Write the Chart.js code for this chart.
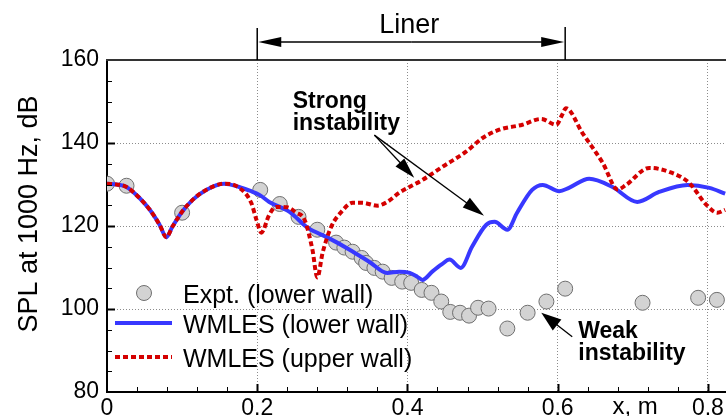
<!DOCTYPE html>
<html>
<head>
<meta charset="utf-8">
<script src="https://cdn.jsdelivr.net/npm/chart.js@4.4.1/dist/chart.umd.min.js"></script>
<style>
  html, body { margin: 0; padding: 0; width: 726px; height: 416px; overflow: hidden; background: #fff; }
  #wrap { position: relative; width: 726px; height: 416px; overflow: hidden; }
  canvas { position: absolute; left: 0; top: 0; }
</style>
</head>
<body>
<div id="wrap"><canvas id="splChart" width="800" height="430"></canvas></div>
<script>
// SPL at 1000 Hz along the duct

// Experiment, lower wall
const exptX = [0.000, 0.026, 0.100, 0.204, 0.230, 0.255, 0.280, 0.305, 0.316, 0.327, 0.339, 0.345,
               0.356, 0.367, 0.379, 0.393, 0.405, 0.419, 0.432, 0.445, 0.457, 0.470, 0.482, 0.494,
               0.508, 0.533, 0.560, 0.585, 0.610, 0.713, 0.787, 0.812];
const exptY = [130.2, 129.7, 123.2, 128.7, 125.3, 122.2, 119.1, 116.0, 114.8, 113.8, 112.3, 111.1,
               109.9, 109.0, 107.5, 106.6, 106.3, 104.6, 103.9, 101.8, 99.3, 99.1, 98.4, 100.3,
               100.1, 95.3, 99.1, 101.8, 104.9, 101.5, 102.7, 102.2];

// WMLES, lower wall
const lowerX = [0.000, 0.013, 0.026, 0.043, 0.057, 0.070, 0.079, 0.087, 0.099, 0.114, 0.132, 0.156,
                0.176, 0.190, 0.203, 0.216, 0.243, 0.267, 0.294, 0.323, 0.349, 0.373, 0.389, 0.403,
                0.413, 0.420, 0.433, 0.446, 0.456, 0.471, 0.486, 0.505, 0.516, 0.533, 0.546, 0.566,
                0.580, 0.602, 0.615, 0.642, 0.673, 0.706, 0.735, 0.773, 0.802, 0.823];
const lowerY = [130.2, 130.0, 129.4, 126.8, 123.9, 120.3, 117.3, 119.8, 123.2, 126.3, 128.7, 130.2,
                129.4, 128.5, 127.5, 125.8, 123.4, 119.6, 117.2, 114.3, 111.4, 108.7, 109.0, 108.7,
                107.8, 107.0, 109.0, 110.8, 111.9, 109.9, 115.0, 120.3, 121.0, 119.1, 123.2, 128.7,
                129.9, 128.4, 129.2, 131.4, 129.4, 125.8, 128.2, 129.9, 129.2, 127.8];

// WMLES, upper wall
const upperX = [0.000, 0.013, 0.026, 0.043, 0.057, 0.070, 0.079, 0.087, 0.099, 0.114, 0.132, 0.156,
                0.176, 0.192, 0.199, 0.2055, 0.216, 0.225, 0.240, 0.252, 0.263, 0.2735, 0.280, 0.287,
                0.2985, 0.312, 0.327, 0.340, 0.360, 0.373, 0.389, 0.420, 0.446, 0.478, 0.500, 0.522,
                0.553, 0.578, 0.598, 0.606, 0.611, 0.633, 0.660, 0.680, 0.691, 0.722, 0.749, 0.775,
                0.798, 0.8125, 0.823];
const upperY = [130.2, 130.0, 129.4, 126.8, 123.9, 120.3, 117.3, 119.8, 123.2, 126.3, 128.7, 130.2,
                129.2, 125.6, 121.5, 118.4, 122.7, 124.6, 124.5, 123.2, 121.5, 114.3, 107.6, 113.5,
                119.8, 123.4, 125.6, 125.6, 124.9, 125.8, 128.0, 131.1, 134.2, 137.9, 141.2, 143.2,
                144.4, 145.8, 144.4, 146.8, 148.4, 142.4, 135.2, 128.8, 129.9, 134.0, 133.0, 130.4,
                125.1, 123.2, 123.9];

// Axes
const xMin = 0, xMax = 0.9, xStep = 0.2, xMinorStep = 0.04;
const yMin = 80, yMax = 160, yStep = 20, yMinorStep = 5;
const yTitle = 'SPL at 1000 Hz, dB';
const xTitle = 'x, m';

const FONT = '"Liberation Sans", Arial, Helvetica, sans-serif';

function toPoints(xs, ys) {
  return xs.map((x, i) => ({ x: x, y: ys[i] }));
}

// Line with a filled arrow head at (x1, y1)
function drawArrow(ctx, x0, y0, x1, y1, headLen, headHalf) {
  const ang = Math.atan2(y1 - y0, x1 - x0);
  const c = Math.cos(ang), s = Math.sin(ang);
  ctx.beginPath();
  ctx.moveTo(x0, y0);
  ctx.lineTo(x1 - c * headLen * 0.8, y1 - s * headLen * 0.8);
  ctx.stroke();
  ctx.beginPath();
  ctx.moveTo(x1, y1);
  ctx.lineTo(x1 - headLen * c + headHalf * s, y1 - headLen * s - headHalf * c);
  ctx.lineTo(x1 - headLen * c - headHalf * s, y1 - headLen * s + headHalf * c);
  ctx.closePath();
  ctx.fill();
}

const overlayPlugin = {
  id: 'overlay',
  afterDraw(chart) {
    const ctx = chart.ctx;
    const a = chart.chartArea;
    const xs = chart.scales.x, ys = chart.scales.y;
    const px = v => xs.getPixelForValue(v);
    const py = v => ys.getPixelForValue(v);

    ctx.save();

    // top frame line
    ctx.strokeStyle = '#333';
    ctx.lineWidth = 2;
    ctx.beginPath();
    ctx.moveTo(a.left - 1, a.top);
    ctx.lineTo(a.right, a.top);
    ctx.stroke();

    // inward tick marks
    ctx.strokeStyle = '#000';
    const nX = Math.round((xMax - xMin) / xMinorStep);
    for (let i = 1; i <= nX; i++) {
      const major = i % 5 === 0;
      const x = Math.round(px(xMin + i * xMinorStep)) + 0.5;
      ctx.lineWidth = major ? 2 : 1;
      ctx.beginPath();
      ctx.moveTo(x, a.bottom);
      ctx.lineTo(x, a.bottom - (major ? 8 : 5));
      ctx.stroke();
    }
    for (let v = yMin + yMinorStep; v < yMax; v += yMinorStep) {
      const major = v % yStep === 0;
      const y = Math.round(py(v)) + 0.5;
      ctx.lineWidth = major ? 2 : 1;
      ctx.beginPath();
      ctx.moveTo(a.left, y);
      ctx.lineTo(a.left + (major ? 8 : 5), y);
      ctx.stroke();
    }

    ctx.fillStyle = '#000';

    // y axis title
    ctx.save();
    ctx.translate(a.left - 70, (a.top + a.bottom) / 2 - 12);
    ctx.rotate(-Math.PI / 2);
    ctx.font = '27px ' + FONT;
    ctx.textAlign = 'center';
    ctx.textBaseline = 'alphabetic';
    ctx.fillText(yTitle, 0, 0);
    ctx.restore();

    // x axis title, sits on the tick label line
    ctx.font = '24px ' + FONT;
    ctx.textAlign = 'left';
    ctx.textBaseline = 'alphabetic';
    ctx.fillText(xTitle, px(0.673), a.bottom + 22);

    // Liner bracket above the plot
    const l0 = px(0.2), l1 = px(0.61);
    const ly = a.top - 18;
    ctx.lineWidth = 1.5;
    ctx.beginPath();
    ctx.moveTo(l0, a.top - 32); ctx.lineTo(l0, a.top);
    ctx.moveTo(l1, a.top - 33); ctx.lineTo(l1, a.top);
    ctx.stroke();
    const lm = (l0 + l1) / 2;
    drawArrow(ctx, lm, ly, l0 + 1, ly, 23, 5);
    drawArrow(ctx, lm, ly, l1 - 1, ly, 23, 5);
    ctx.font = '27px ' + FONT;
    ctx.textAlign = 'center';
    ctx.fillText('Liner', lm - 2, a.top - 27);

    // Strong instability
    ctx.font = 'bold 23px ' + FONT;
    ctx.textAlign = 'left';
    ctx.fillText('Strong', px(0.2472), py(148.4));
    ctx.fillText('instability', px(0.2472), py(143.1));
    ctx.lineWidth = 1.3;
    drawArrow(ctx, px(0.356), py(141.9), px(0.409), py(131.6), 21, 6);
    drawArrow(ctx, px(0.356), py(141.9), px(0.502), py(122.5), 22, 6);

    // Weak instability
    ctx.fillText('Weak', px(0.6274), py(93.1));
    ctx.fillText('instability', px(0.6274), py(87.8));
    drawArrow(ctx, px(0.6194), py(93.3), px(0.5782), py(99.1), 20, 7);

    // legend
    const ds = chart.data.datasets;
    const lx0 = a.left + 8, lx1 = a.left + 65, tx = a.left + 76;
    const rows = [a.top + 233, a.top + 263, a.top + 297];
    ctx.font = '25px ' + FONT;
    ctx.textAlign = 'left';
    ctx.textBaseline = 'alphabetic';
    // Expt.
    ctx.beginPath();
    ctx.arc(a.left + 37, rows[0], 7.5, 0, Math.PI * 2);
    ctx.fillStyle = ds[2].pointBackgroundColor;
    ctx.fill();
    ctx.lineWidth = 1;
    ctx.strokeStyle = ds[2].pointBorderColor;
    ctx.stroke();
    ctx.fillStyle = '#000';
    ctx.fillText(ds[2].label, tx, rows[0] + 10);
    // lower wall
    ctx.lineWidth = 4;
    ctx.strokeStyle = ds[1].borderColor;
    ctx.beginPath(); ctx.moveTo(lx0, rows[1]); ctx.lineTo(lx1, rows[1]); ctx.stroke();
    ctx.fillText(ds[1].label, tx, rows[1] + 10);
    // upper wall
    ctx.strokeStyle = ds[0].borderColor;
    ctx.setLineDash(ds[0].borderDash);
    ctx.beginPath(); ctx.moveTo(lx0, rows[2]); ctx.lineTo(lx1, rows[2]); ctx.stroke();
    ctx.setLineDash([]);
    ctx.fillText(ds[0].label, tx, rows[2] + 10);

    ctx.restore();
  }
};

const tickFont = { family: FONT, size: 23 };

new Chart(document.getElementById('splChart'), {
  type: 'scatter',
  data: {
    datasets: [
      {
        label: 'WMLES (upper wall)',
        data: toPoints(upperX, upperY),
        showLine: true,
        borderColor: '#d40000',
        borderWidth: 4,
        borderDash: [5, 3],
        pointRadius: 0,
        cubicInterpolationMode: 'monotone',
        order: 0
      },
      {
        label: 'WMLES (lower wall)',
        data: toPoints(lowerX, lowerY),
        showLine: true,
        borderColor: '#3838ff',
        borderWidth: 4,
        pointRadius: 0,
        cubicInterpolationMode: 'monotone',
        order: 1
      },
      {
        label: 'Expt. (lower wall)',
        data: toPoints(exptX, exptY),
        showLine: false,
        pointRadius: 7.5,
        pointBackgroundColor: '#d3d3d3',
        pointBorderColor: '#6f6f6f',
        pointBorderWidth: 1,
        order: 2
      }
    ]
  },
  options: {
    responsive: false,
    animation: false,
    devicePixelRatio: 1,
    layout: { padding: { left: 0, top: 60, right: 17, bottom: 0 } },
    plugins: {
      legend: { display: false },
      tooltip: { enabled: false }
    },
    scales: {
      x: {
        type: 'linear',
        min: xMin,
        max: xMax,
        afterFit: s => { s.height = 38; },
        ticks: {
          stepSize: xStep,
          padding: 3,
          color: '#000',
          font: tickFont,
          maxRotation: 0,
          autoSkip: false,
          callback: v => v > 0.85 ? null : (v === 0 ? '0' : v.toFixed(1))
        },
        grid: { color: '#8c8c8c', lineWidth: 1, drawTicks: false },
        border: { display: true, color: '#000', width: 2, dash: [1, 2] }
      },
      y: {
        type: 'linear',
        min: yMin,
        max: yMax,
        afterFit: s => { s.width = 107; },
        ticks: {
          stepSize: yStep,
          padding: 8,
          color: '#000',
          font: tickFont,
          callback: v => String(v)
        },
        grid: { color: '#8c8c8c', lineWidth: 1, drawTicks: false },
        border: { display: true, color: '#000', width: 2, dash: [1, 2] }
      }
    }
  },
  plugins: [overlayPlugin]
});
</script>
</body>
</html>
